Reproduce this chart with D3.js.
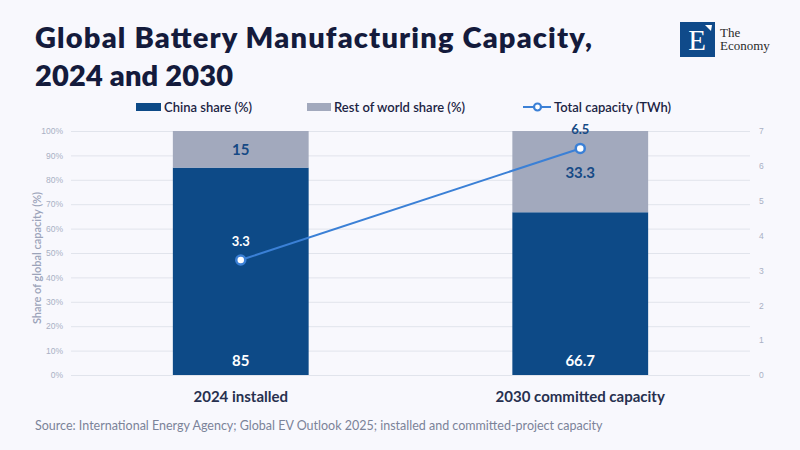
<!DOCTYPE html>
<html>
<head>
<meta charset="utf-8">
<script src="https://cdn.jsdelivr.net/npm/d3@7"></script>
<style>
  body { margin: 0; background: #f8f8fd; }
  svg { display: block; font-family: "Lato", "Noto Sans", sans-serif; }
</style>
</head>
<body>
<svg id="chart" width="800" height="450"></svg>
<script>
// chart data
const categories = ["2024 installed", "2030 committed capacity"]
const chinaShare = [85, 66.7]
const restShare = [15, 33.3]
const totalTWh = [3.3, 6.5]
const pctTicks = [0, 10, 20, 30, 40, 50, 60, 70, 80, 90, 100]
const twhTicks = [0, 1, 2, 3, 4, 5, 6, 7]

const COLORS = { china: "#0d4a87", rest: "#a2a9bd", line: "#3b80d6", grid: "#e1e4ec" }
const MARGIN = { left: 71, right: 50, top: 131, bottom: 75 }
const W = 800, H = 450

const svg = d3.select("#chart")
svg.append("rect").attr("width", W).attr("height", H).attr("fill", "#f8f8fd")

const x = d3.scaleBand().domain(categories).range([MARGIN.left, W - MARGIN.right])
  .paddingInner(0.6).paddingOuter(0.3)
const y = d3.scaleLinear().domain([0, 100]).range([H - MARGIN.bottom, MARGIN.top])
const y2 = d3.scaleLinear().domain([0, 7]).range([H - MARGIN.bottom, MARGIN.top])

// title, stretched a little to the width of the original
svg.append("text").attr("x", 35).attr("y", 48)
  .attr("font-size", 29).attr("font-weight", 800).attr("fill", "#141b3c")
  .attr("textLength", 557).attr("lengthAdjust", "spacing")
  .text("Global Battery Manufacturing Capacity,")
svg.append("text").attr("x", 35).attr("y", 86)
  .attr("font-size", 29).attr("font-weight", 800).attr("fill", "#141b3c")
  .attr("textLength", 198).attr("lengthAdjust", "spacing")
  .text("2024 and 2030")

// logo
const logo = svg.append("g")
logo.append("rect").attr("x", 680).attr("y", 22).attr("width", 35).attr("height", 35).attr("fill", "#0f4a8a")
logo.append("text").attr("x", 697).attr("y", 50).attr("text-anchor", "middle")
  .attr("font-family", "Liberation Serif, serif").attr("font-size", 29).attr("fill", "#fff").text("E")
logo.append("path").attr("d", "M705,25 L712,25 L711,31 Z").attr("fill", "#fff")
logo.append("text").attr("x", 720).attr("y", 36.5).attr("font-family", "Liberation Serif, serif")
  .attr("font-size", 13).attr("fill", "#2a2a2a").text("The")
logo.append("text").attr("x", 720).attr("y", 50).attr("font-family", "Liberation Serif, serif")
  .attr("font-size", 13).attr("fill", "#2a2a2a").text("Economy")

// legend
const legend = svg.append("g").attr("font-size", 13).attr("font-weight", 600).attr("fill", "#1c2444")
legend.append("rect").attr("x", 136).attr("y", 103).attr("width", 25).attr("height", 8).attr("fill", COLORS.china)
legend.append("text").attr("x", 164).attr("y", 111.5).text("China share (%)")
legend.append("rect").attr("x", 307).attr("y", 103).attr("width", 24).attr("height", 8).attr("fill", COLORS.rest)
legend.append("text").attr("x", 334).attr("y", 111.5).text("Rest of world share (%)")
legend.append("line").attr("x1", 523).attr("x2", 551).attr("y1", 107).attr("y2", 107)
  .attr("stroke", COLORS.line).attr("stroke-width", 2)
legend.append("circle").attr("cx", 537.5).attr("cy", 107).attr("r", 3.5)
  .attr("fill", "#fff").attr("stroke", COLORS.line).attr("stroke-width", 2.2)
legend.append("text").attr("x", 554).attr("y", 111.5).text("Total capacity (TWh)")

// grid + left axis
const gl = svg.append("g")
  .attr("transform", `translate(${MARGIN.left},0)`)
  .call(d3.axisLeft(y).tickValues(pctTicks).tickFormat(d => d + "%")
    .tickSize(-(W - MARGIN.left - MARGIN.right)).tickPadding(8))
gl.select(".domain").remove()
gl.selectAll(".tick line").attr("stroke", COLORS.grid)
gl.selectAll(".tick text").attr("fill", "#a9b0c4").attr("font-size", 8.5)

// right axis
const gr = svg.append("g")
  .attr("transform", `translate(${W - MARGIN.right},0)`)
  .call(d3.axisRight(y2).tickValues(twhTicks).tickFormat(d3.format("d")).tickSize(0).tickPadding(9))
gr.select(".domain").remove()
gr.selectAll(".tick text").attr("fill", "#a9b0c4").attr("font-size", 8.5)

svg.append("text")
  .attr("transform", `translate(41,${(y(0) + y(100)) / 2 + 5}) rotate(-90)`)
  .attr("text-anchor", "middle").attr("font-size", 11).attr("font-weight", 600).attr("fill", "#9ba3b9")
  .text("Share of global capacity (%)")

// bars
const bars = svg.append("g")
bars.selectAll(".china").data(categories).join("rect")
  .attr("x", d => x(d)).attr("width", x.bandwidth())
  .attr("y", (d, i) => y(chinaShare[i])).attr("height", (d, i) => y(0) - y(chinaShare[i]))
  .attr("fill", COLORS.china)
bars.selectAll(".rest").data(categories).join("rect")
  .attr("x", d => x(d)).attr("width", x.bandwidth())
  .attr("y", (d, i) => y(chinaShare[i] + restShare[i]))
  .attr("height", (d, i) => y(chinaShare[i]) - y(chinaShare[i] + restShare[i]))
  .attr("fill", COLORS.rest)

// bar labels
const labels = svg.append("g").attr("text-anchor", "middle").attr("font-size", 15).attr("font-weight", 700)
labels.selectAll(".cl").data(categories).join("text")
  .attr("x", d => x(d) + x.bandwidth() / 2).attr("y", y(0) - 9)
  .attr("fill", "#fff").text((d, i) => chinaShare[i])
labels.selectAll(".rl").data(categories).join("text")
  .attr("x", d => x(d) + x.bandwidth() / 2)
  .attr("y", (d, i) => (y(chinaShare[i]) + y(chinaShare[i] + restShare[i])) / 2 + 6)
  .attr("fill", "#164a85").text((d, i) => restShare[i])

// x labels
svg.append("g").selectAll("text").data(categories).join("text")
  .attr("x", d => x(d) + x.bandwidth() / 2).attr("y", 402)
  .attr("text-anchor", "middle").attr("font-size", 15).attr("font-weight", 700).attr("fill", "#27304f")
  .text(d => d)

// total capacity line
const cx = d => x(d) + x.bandwidth() / 2
svg.append("path")
  .datum(categories)
  .attr("d", d3.line().x(cx).y((d, i) => y2(totalTWh[i])))
  .attr("fill", "none").attr("stroke", COLORS.line).attr("stroke-width", 2)
svg.append("g").selectAll("circle").data(categories).join("circle")
  .attr("cx", cx).attr("cy", (d, i) => y2(totalTWh[i])).attr("r", 4.5)
  .attr("fill", "#fff").attr("stroke", COLORS.line).attr("stroke-width", 2.5)
svg.append("g").selectAll("text").data(categories).join("text")
  .attr("x", cx).attr("y", (d, i) => y2(totalTWh[i]) - 14)
  .attr("text-anchor", "middle").attr("font-size", 13).attr("font-weight", 700)
  .attr("fill", (d, i) => i === 0 ? "#fff" : "#164a85")
  .text((d, i) => totalTWh[i])

// source
svg.append("text").attr("x", 35).attr("y", 430).attr("font-size", 12.5).attr("fill", "#7b8399")
  .text("Source: International Energy Agency; Global EV Outlook 2025; installed and committed-project capacity")
</script>
</body>
</html>
